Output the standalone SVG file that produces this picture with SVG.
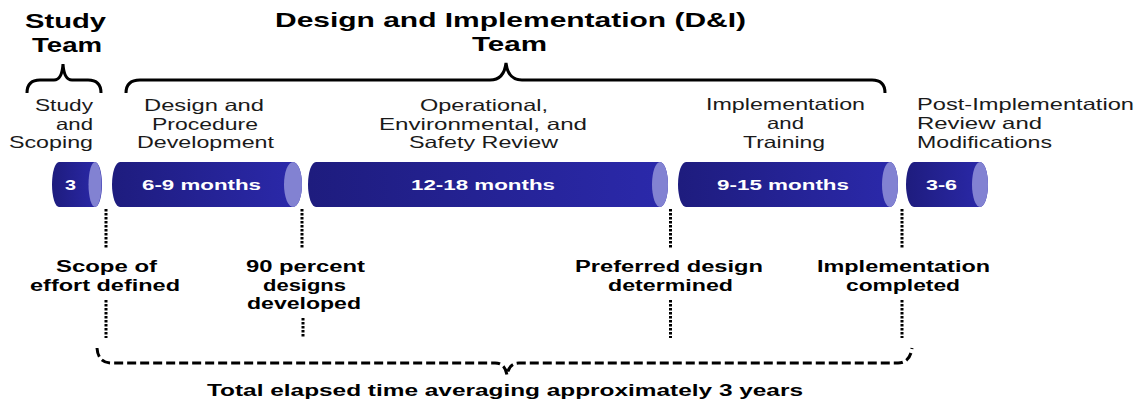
<svg xmlns="http://www.w3.org/2000/svg" width="1143" height="403" viewBox="0 0 1143 403">
<defs>
<linearGradient id="cyl" x1="0" y1="0" x2="1" y2="0">
<stop offset="0" stop-color="#1e1c7e"/>
<stop offset="1" stop-color="#2b29ab"/>
</linearGradient>
<style>
.t{font-family:"Liberation Sans",Arial,sans-serif;font-weight:bold;font-size:21px;fill:#000}
.p{font-family:"Liberation Sans",Arial,sans-serif;font-size:16.5px;fill:#1a1a1a}
.c{font-family:"Liberation Sans",Arial,sans-serif;font-weight:bold;font-size:15px;fill:#fff}
.m{font-family:"Liberation Sans",Arial,sans-serif;font-weight:bold;font-size:16px;fill:#000}
.body{fill:url(#cyl)}
.end{fill:#8282d2}
.brace{fill:none;stroke:#000;stroke-width:3}
.dash{fill:none;stroke:#000;stroke-width:3;stroke-dasharray:9 4}
.dot{fill:none;stroke:#000;stroke-width:3;stroke-dasharray:2.5 1.5}
</style>
</defs>
<rect width="1143" height="403" fill="#fff"/>

<g id="titles">
<text class="t" x="25" y="28" textLength="81" lengthAdjust="spacingAndGlyphs">Study</text>
<text class="t" x="32" y="52" textLength="70" lengthAdjust="spacingAndGlyphs">Team</text>
<text class="t" x="275" y="27" textLength="471" lengthAdjust="spacingAndGlyphs">Design and Implementation (D&amp;I)</text>
<text class="t" x="472" y="51" textLength="75" lengthAdjust="spacingAndGlyphs">Team</text>
</g>

<g id="braces">
<path class="brace" d="M27,93 Q27,80 40,80 H54 Q62,80 63,64 Q64,80 72,80 H88 Q101,80 101,93"/>
<path class="brace" d="M126,93 Q126,80 140,80 H490 Q504,80 506,63 Q508,80 522,80 H872 Q885,80 885,93"/>
</g>

<g id="phase-study">
<text class="p" x="35" y="111" textLength="58" lengthAdjust="spacingAndGlyphs">Study</text>
<text class="p" x="56" y="130" textLength="37" lengthAdjust="spacingAndGlyphs">and</text>
<text class="p" x="9" y="148" textLength="84" lengthAdjust="spacingAndGlyphs">Scoping</text>
<path class="body" d="M59,162 H95 A7,22.5 0 0 1 95,207 H59 A7,22.5 0 0 1 59,162 Z"/>
<ellipse class="end" cx="95" cy="184.5" rx="6.5" ry="22.5"/>
<text class="c" x="65" y="190" textLength="11" lengthAdjust="spacingAndGlyphs">3</text>
</g>

<g id="phase-design">
<text class="p" x="144" y="111" textLength="120" lengthAdjust="spacingAndGlyphs">Design and</text>
<text class="p" x="152" y="130" textLength="106" lengthAdjust="spacingAndGlyphs">Procedure</text>
<text class="p" x="137" y="148" textLength="137" lengthAdjust="spacingAndGlyphs">Development</text>
<path class="body" d="M120,162 H293 A9,22.5 0 0 1 293,207 H120 A8,22.5 0 0 1 120,162 Z"/>
<ellipse class="end" cx="293" cy="184.5" rx="9" ry="22.5"/>
<text class="c" x="142" y="190" textLength="119" lengthAdjust="spacingAndGlyphs">6-9 months</text>
</g>

<g id="phase-review">
<text class="p" x="420" y="111" textLength="128" lengthAdjust="spacingAndGlyphs">Operational,</text>
<text class="p" x="379" y="130" textLength="208" lengthAdjust="spacingAndGlyphs">Environmental, and</text>
<text class="p" x="409" y="148" textLength="149" lengthAdjust="spacingAndGlyphs">Safety Review</text>
<path class="body" d="M316,162 H660 A8,22.5 0 0 1 660,207 H316 A8,22.5 0 0 1 316,162 Z"/>
<ellipse class="end" cx="660" cy="184.5" rx="8" ry="22.5"/>
<text class="c" x="411" y="190" textLength="144" lengthAdjust="spacingAndGlyphs">12-18 months</text>
</g>

<g id="phase-implementation">
<text class="p" x="706" y="110" textLength="159" lengthAdjust="spacingAndGlyphs">Implementation</text>
<text class="p" x="767" y="129" textLength="37" lengthAdjust="spacingAndGlyphs">and</text>
<text class="p" x="743" y="148" textLength="82" lengthAdjust="spacingAndGlyphs">Training</text>
<path class="body" d="M686,162 H890 A8,22.5 0 0 1 890,207 H686 A8,22.5 0 0 1 686,162 Z"/>
<ellipse class="end" cx="890" cy="184.5" rx="8" ry="22.5"/>
<text class="c" x="717" y="190" textLength="132" lengthAdjust="spacingAndGlyphs">9-15 months</text>
</g>

<g id="phase-post">
<text class="p" x="917" y="110" textLength="217" lengthAdjust="spacingAndGlyphs">Post-Implementation</text>
<text class="p" x="917" y="129" textLength="125" lengthAdjust="spacingAndGlyphs">Review and</text>
<text class="p" x="917" y="148" textLength="135" lengthAdjust="spacingAndGlyphs">Modifications</text>
<path class="body" d="M914,162 H980 A8,22.5 0 0 1 980,207 H914 A8,22.5 0 0 1 914,162 Z"/>
<ellipse class="end" cx="980" cy="184.5" rx="8" ry="22.5"/>
<text class="c" x="926" y="190" textLength="31" lengthAdjust="spacingAndGlyphs">3-6</text>
</g>

<g id="milestones">
<text class="m" x="56" y="272" textLength="101" lengthAdjust="spacingAndGlyphs">Scope of</text>
<text class="m" x="30" y="291" textLength="150" lengthAdjust="spacingAndGlyphs">effort defined</text>
<text class="m" x="246" y="272" textLength="119" lengthAdjust="spacingAndGlyphs">90 percent</text>
<text class="m" x="263" y="291" textLength="83" lengthAdjust="spacingAndGlyphs">designs</text>
<text class="m" x="247" y="309" textLength="114" lengthAdjust="spacingAndGlyphs">developed</text>
<text class="m" x="575" y="272" textLength="188" lengthAdjust="spacingAndGlyphs">Preferred design</text>
<text class="m" x="608" y="291" textLength="125" lengthAdjust="spacingAndGlyphs">determined</text>
<text class="m" x="817" y="272" textLength="173" lengthAdjust="spacingAndGlyphs">Implementation</text>
<text class="m" x="846" y="291" textLength="114" lengthAdjust="spacingAndGlyphs">completed</text>
<text class="m" x="207" y="396" textLength="596" lengthAdjust="spacingAndGlyphs">Total elapsed time averaging approximately 3 years</text>
</g>

<g id="connectors">
<line class="dot" x1="106" y1="209" x2="106" y2="249"/>
<line class="dot" x1="302" y1="209" x2="302" y2="249"/>
<line class="dot" x1="670.5" y1="209" x2="670.5" y2="249"/>
<line class="dot" x1="902" y1="209" x2="902" y2="249"/>
<line class="dot" x1="106" y1="300" x2="106" y2="338"/>
<line class="dot" x1="303" y1="318" x2="303" y2="338"/>
<line class="dot" x1="670.5" y1="300" x2="670.5" y2="338"/>
<line class="dot" x1="902" y1="300" x2="902" y2="338"/>
<path class="dash" d="M97,348 Q98,363 112,363 H495 Q505,363 507,375 Q509,363 519,363 H898 Q910,363 912,348"/>
</g>
</svg>
